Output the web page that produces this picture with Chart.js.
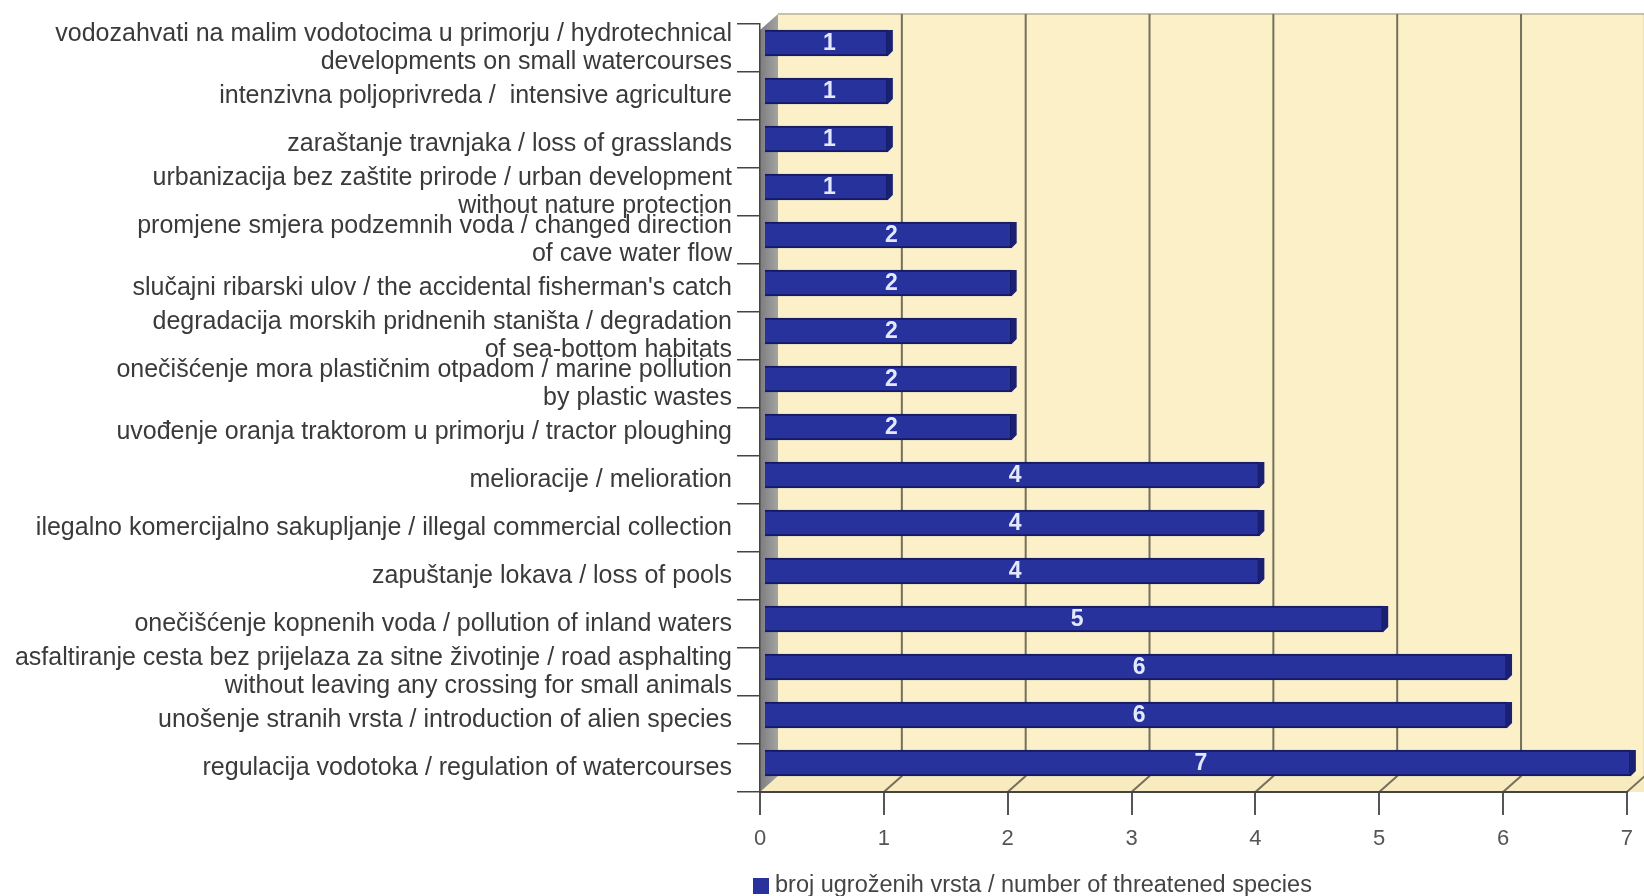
<!DOCTYPE html>
<html>
<head>
<meta charset="utf-8">
<script src="https://cdn.jsdelivr.net/npm/chart.js@4/dist/chart.umd.min.js"></script>
<style>
  html, body { margin:0; padding:0; background:#fff; }
  #wrap { width:1644px; height:896px; }
</style>
</head>
<body>
<div id="wrap"><canvas id="chart" width="1644" height="896"></canvas></div>
<script>
// categories, top to bottom
const labels = [
  ['vodozahvati na malim vodotocima u primorju / hydrotechnical', 'developments on small watercourses'],
  'intenzivna poljoprivreda /  intensive agriculture',
  'zaraštanje travnjaka / loss of grasslands',
  ['urbanizacija bez zaštite prirode / urban development', 'without nature protection'],
  ['promjene smjera podzemnih voda / changed direction', 'of cave water flow'],
  'slučajni ribarski ulov / the accidental fisherman\'s catch',
  ['degradacija morskih pridnenih staništa / degradation', 'of sea-bottom habitats'],
  ['onečišćenje mora plastičnim otpadom / marine pollution', 'by plastic wastes'],
  'uvođenje oranja traktorom u primorju / tractor ploughing',
  'melioracije / melioration',
  'ilegalno komercijalno sakupljanje / illegal commercial collection',
  'zapuštanje lokava / loss of pools',
  'onečišćenje kopnenih voda / pollution of inland waters',
  ['asfaltiranje cesta bez prijelaza za sitne životinje / road asphalting', 'without leaving any crossing for small animals'],
  'unošenje stranih vrsta / introduction of alien species',
  'regulacija vodotoka / regulation of watercourses'
];
const species = [1, 1, 1, 1, 2, 2, 2, 2, 2, 4, 4, 4, 5, 6, 6, 7];
const xTicks = [0, 1, 2, 3, 4, 5, 6, 7];
const seriesName = 'broj ugroženih vrsta / number of threatened species';

const FONT = '"Liberation Sans", Arial, sans-serif';
const BAR = '#27329c';
// 3D depth of the plot box and where the bars sit inside it
const DX = 18, DY = 16, BAR_DX = 4, BAR_DY = -5;

const box3d = {
  id: 'box3d',
  beforeDraw(chart){
    const {ctx, chartArea:a, scales:{x}} = chart;
    const W = chart.width;
    ctx.save();
    // back wall
    ctx.fillStyle = '#fbf0c8';
    ctx.fillRect(a.left + DX, a.top - 10, W, a.bottom - DY - (a.top - 10));
    ctx.strokeStyle = '#c9c0a6'; ctx.lineWidth = 2;
    ctx.beginPath(); ctx.moveTo(a.left + DX, a.top - 10); ctx.lineTo(W, a.top - 10); ctx.stroke();
    // floor
    ctx.fillStyle = '#f8ebc0';
    ctx.beginPath();
    ctx.moveTo(a.left, a.bottom); ctx.lineTo(W, a.bottom);
    ctx.lineTo(W, a.bottom - DY); ctx.lineTo(a.left + DX, a.bottom - DY);
    ctx.closePath(); ctx.fill();
    // left wall
    const g = ctx.createLinearGradient(a.left, 0, a.left + DX, 0);
    g.addColorStop(0, '#7c7c7c'); g.addColorStop(1, '#a4a4a4');
    ctx.fillStyle = g;
    ctx.beginPath();
    ctx.moveTo(a.left, a.top + 6); ctx.lineTo(a.left + DX, a.top - 10);
    ctx.lineTo(a.left + DX, a.bottom - DY); ctx.lineTo(a.left, a.bottom);
    ctx.closePath(); ctx.fill();
    // grid lines on back wall and floor
    ctx.strokeStyle = '#74705c'; ctx.lineWidth = 2;
    xTicks.forEach(v => {
      if (v === 0) return;
      const px = x.getPixelForValue(v);
      ctx.beginPath();
      ctx.moveTo(px + DX, a.top - 10); ctx.lineTo(px + DX, a.bottom - DY);
      ctx.lineTo(px, a.bottom);
      ctx.stroke();
    });
    ctx.restore();
  },
  beforeDatasetsDraw(chart){
    chart.ctx.save();
    chart.ctx.translate(BAR_DX, BAR_DY);
  },
  afterDatasetsDraw(chart){
    const {ctx} = chart;
    const meta = chart.getDatasetMeta(0);
    // end cap of each bar
    ctx.fillStyle = '#1a2172';
    meta.data.forEach(bar => {
      const t = bar.y - bar.height / 2, b = bar.y + bar.height / 2;
      ctx.beginPath();
      ctx.moveTo(bar.x - 1, t); ctx.lineTo(bar.x + 5, t);
      ctx.lineTo(bar.x + 5, b - 5); ctx.lineTo(bar.x, b);
      ctx.lineTo(bar.x - 1, b);
      ctx.closePath(); ctx.fill();
    });
    // value labels inside the bars
    ctx.font = 'bold 23px ' + FONT;
    ctx.fillStyle = '#e3e8ff';
    ctx.textAlign = 'center'; ctx.textBaseline = 'middle';
    meta.data.forEach((bar, i) => {
      ctx.fillText(String(species[i]), (bar.x + bar.base) / 2 + 3, bar.y + 1);
    });
    ctx.restore();
    // legend
    ctx.save();
    ctx.fillStyle = BAR;
    ctx.fillRect(753, 878, 16, 16);
    ctx.font = '23.5px ' + FONT;
    ctx.fillStyle = '#444';
    ctx.textAlign = 'left'; ctx.textBaseline = 'middle';
    ctx.fillText(chart.data.datasets[0].label, 775, 886);
    ctx.restore();
  }
};

new Chart(document.getElementById('chart'), {
  type: 'bar',
  data: {
    labels,
    datasets: [{
      label: seriesName,
      data: species,
      backgroundColor: BAR,
      borderColor: '#151a62',
      borderWidth: 2,
      borderSkipped: 'start',
      barThickness: 26,
      clip: false
    }]
  },
  options: {
    indexAxis: 'y',
    responsive: false,
    animation: false,
    devicePixelRatio: 1,
    layout: { padding: { left: 0, right: 8, top: 24, bottom: 0 } },
    plugins: { legend: { display: false }, tooltip: { enabled: false } },
    scales: {
      y: {
        afterFit(s){ s.width = 760; },
        grid: { offset: true, drawOnChartArea: false, drawTicks: true, tickLength: 23, color: '#444', lineWidth: 1.5 },
        border: { display: true, color: '#444', width: 1.5 },
        ticks: { autoSkip: false, padding: 5, color: '#3a3a3a', font: { family: FONT, size: 25, lineHeight: 1.15 } }
      },
      x: {
        min: 0, max: 7,
        afterFit(s){ s.height = 104; },
        afterBuildTicks(s){ s.ticks = xTicks.map(v => ({ value: v })); },
        grid: { drawOnChartArea: false, drawTicks: true, tickLength: 23, color: '#555', lineWidth: 2 },
        border: { display: true, color: '#444', width: 2 },
        ticks: { padding: 11, color: '#555', font: { family: FONT, size: 22 } }
      }
    }
  },
  plugins: [box3d]
});
</script>
</body>
</html>
